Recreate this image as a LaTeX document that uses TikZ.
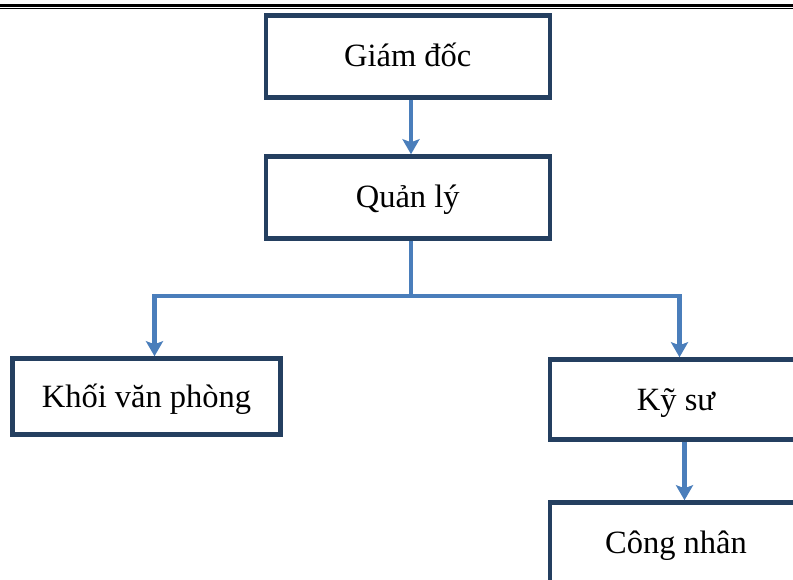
\documentclass[tikz,border=0pt]{standalone}
\usepackage{fontspec}
\setmainfont{Liberation Serif}
\usetikzlibrary{arrows.meta}
\definecolor{boxnavy}{HTML}{243F60}
\definecolor{linkblue}{HTML}{4A7EBB}

\begin{document}
\begin{tikzpicture}[x=1pt,y=-1pt,
    khung/.style={draw=boxnavy,line width=4.5pt,inner sep=0pt,
        minimum width=284pt,minimum height=82pt,
        text height=27pt,text depth=6pt,
        font=\fontsize{32.5}{38}\selectfont},
    noi/.style={draw=linkblue,line width=4.5pt},
    muiten/.style={noi,-{Stealth[width=17pt,length=15pt,inset=3pt]}}]
    \useasboundingbox (0,0) rectangle (793,580);

    % double rule at the top
    \draw[line width=2.6pt] (0,5.3) -- (793,5.3);
    \draw[line width=1pt] (0,8.3) -- (793,8.3);

    \node[khung] (giamdoc) at (407.75,56.5) {Giám đốc};
    \node[khung] (quanly) at (407.75,197.5) {Quản lý};
    \node[khung,minimum width=268pt,minimum height=76pt] (khoivp) at (146.5,396.5) {Khối văn phòng};
    \node[khung,minimum width=252pt,minimum height=80pt] (kysu) at (676,399.5) {Kỹ sư};
    \node[khung,minimum width=252pt,minimum height=80pt] (congnhan) at (676,542.5) {Công nhân};

    \draw[muiten] ([xshift=3.25pt]giamdoc.south) -- ([xshift=3.25pt]quanly.north);

    \coordinate (re) at (411,296);
    \draw[noi] ([xshift=3.25pt]quanly.south) -- (re);
    \draw[muiten] (re) -| ([xshift=8pt]khoivp.north);
    \draw[muiten] (re) -| ([xshift=3.5pt]kysu.north);

    \draw[muiten] ([xshift=8.5pt]kysu.south) -- ([xshift=8.5pt]congnhan.north);
\end{tikzpicture}
\end{document}
